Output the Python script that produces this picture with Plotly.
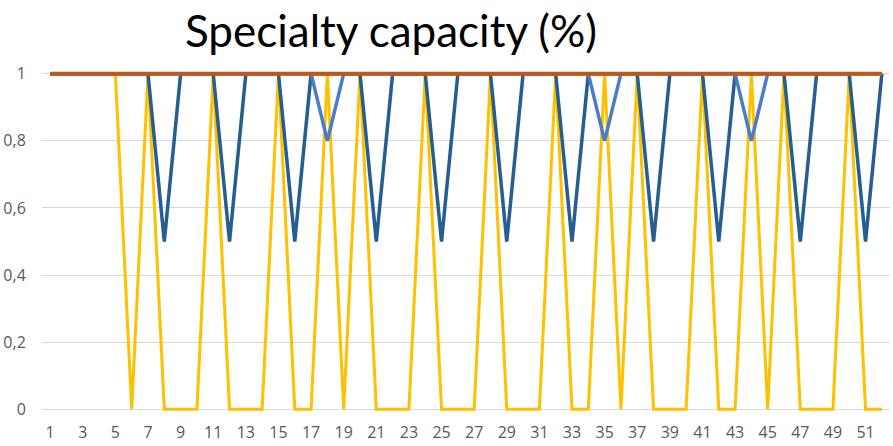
import plotly.graph_objects as go

# Weeks on the category axis
weeks = list(range(1, 53))
week_ticks = list(range(1, 52, 2))

# Capacity share per week for each specialty line
yellow_vals = [1, 1, 1, 1, 1, 0, 1, 0, 0, 0, 1, 0, 0, 0, 1, 0, 0, 1, 0, 1,
               0, 0, 0, 1, 0, 0, 0, 1, 0, 0, 0, 1, 0, 0, 1, 0, 1, 0, 0, 0,
               1, 0, 0, 1, 0, 1, 0, 0, 0, 1, 0, 0]
dark_blue_vals = [1, 1, 1, 1, 1, 1, 1, 0.5, 1, 1, 1, 0.5, 1, 1, 1, 0.5, 1, 1, 1, 1,
                  0.5, 1, 1, 1, 0.5, 1, 1, 1, 0.5, 1, 1, 1, 0.5, 1, 1, 1, 1, 0.5, 1, 1,
                  1, 0.5, 1, 1, 1, 1, 0.5, 1, 1, 1, 0.5, 1]
mid_blue_vals = [1, 1, 1, 1, 1, 1, 1, 1, 1, 1, 1, 1, 1, 1, 1, 1, 1, 0.8, 1, 1,
                 1, 1, 1, 1, 1, 1, 1, 1, 1, 1, 1, 1, 1, 1, 0.8, 1, 1, 1, 1, 1,
                 1, 1, 1, 0.8, 1, 1, 1, 1, 1, 1, 1, 1]
orange_vals = [1] * 52

y_tickvals = [0, 0.2, 0.4, 0.6, 0.8, 1]
y_ticktext = ["0", "0,2", "0,4", "0,6", "0,8", "1"]

fig = go.Figure()
series = [
    (yellow_vals, "#FFC000", 3),
    (dark_blue_vals, "#255E91", 3.5),
    (mid_blue_vals, "#4A7CC9", 3.5),
    (orange_vals, "#C0561A", 4),
]
for vals, color, width in series:
    fig.add_trace(go.Scatter(
        x=weeks, y=vals, mode="lines",
        line=dict(color=color, width=width),
        showlegend=False, hoverinfo="skip", cliponaxis=False,
    ))

tick_font = dict(family="Open Sans", size=16, color="#595959")

fig.update_layout(
    width=893, height=446,
    margin=dict(l=42, r=3, t=67, b=25),
    paper_bgcolor="white", plot_bgcolor="white",
    title=dict(
        text="Specialty capacity (%)",
        x=391 / 893, xref="container", xanchor="center",
        y=1 - 32 / 446, yref="container", yanchor="middle",
        font=dict(family="Lato", size=44, color="black"),
    ),
)
fig.update_xaxes(
    range=[0.5, 52.5],
    tickvals=week_ticks, ticktext=[str(w) for w in week_ticks],
    tickfont=tick_font,
    showgrid=False, zeroline=False, showline=False,
    ticks="outside", ticklen=2, tickcolor="rgba(0,0,0,0)",
)
fig.update_yaxes(
    range=[-0.02, 1.02],
    tickvals=y_tickvals, ticktext=y_ticktext,
    tickfont=tick_font,
    showgrid=True, gridcolor="#D9D9D9", gridwidth=1,
    zeroline=False, showline=False,
    ticks="outside", ticklen=12, tickcolor="rgba(0,0,0,0)",
)

fig.write_html("out.html")
